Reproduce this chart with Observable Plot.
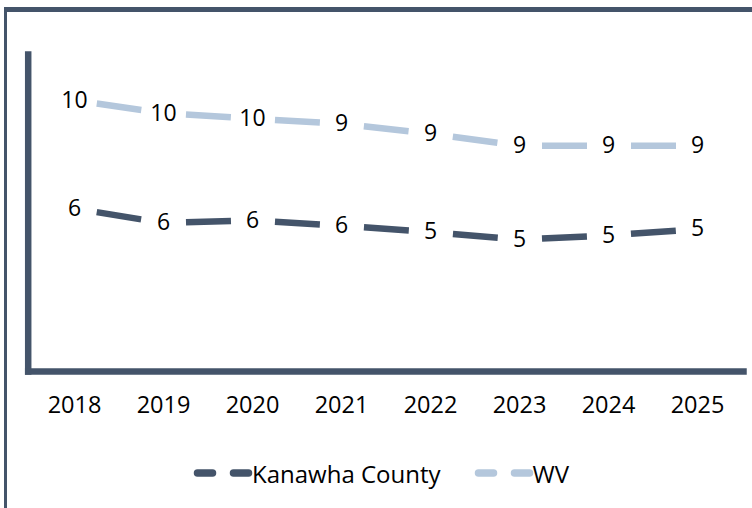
<!DOCTYPE html>
<html><head><meta charset="utf-8">
<script src="https://cdn.jsdelivr.net/npm/d3@7"></script>
<script src="https://cdn.jsdelivr.net/npm/@observablehq/plot@0.6"></script>
<style>
html,body{margin:0;padding:0;background:#fff;overflow:hidden;width:752px;height:508px;position:relative}
#frame{position:absolute;left:4px;top:7px;width:800px;height:600px;border-left:3.5px solid #44546a;border-top:5px solid #44546a;box-sizing:border-box}
#chart{position:absolute;left:0;top:0}
#legend{position:absolute;top:458px;left:193px;height:30px;display:flex;align-items:center;font-family:"Open Sans",Arial,sans-serif;font-size:24px;color:#000}
.item{display:flex;align-items:center;margin-right:33px}
</style></head>
<body>
<div id="frame"></div>
<div id="chart"></div>
<div id="legend"></div>
<script>
const years = ["2018","2019","2020","2021","2022","2023","2024","2025"];
const kanawha = [6.17, 5.62, 5.72, 5.52, 5.28, 4.99, 5.15, 5.39];
const wv = [10.27, 9.78, 9.57, 9.38, 9.00, 8.55, 8.55, 8.55];
const seriesNames = ["Kanawha County", "WV"];
const seriesColors = ["#44546a", "#b4c7dc"];
const yDomain = [0, 12];

const rows = [];
const segs = [];
[kanawha, wv].forEach((vals, i) => {
  const pts = vals.map((v, j) => ({series: seriesNames[i], year: years[j], value: v}));
  rows.push(...pts);
  d3.pairs(pts).forEach(([a, b]) => segs.push({series: seriesNames[i], x1: a.year, y1: a.value, x2: b.year, y2: b.value}));
});

const axisColor = "#44546a";
const chart = Plot.plot({
  width: 752,
  height: 440,
  marginLeft: 27.7,
  marginRight: 9,
  marginTop: 54,
  marginBottom: 69,
  style: {fontFamily: "'Open Sans', Arial, sans-serif", fontSize: "23px", color: "#000", background: "transparent"},
  x: {type: "point", domain: years, padding: 0.5},
  y: {domain: yDomain, axis: null},
  color: {domain: seriesNames, range: seriesColors},
  marks: [
    Plot.axisX({tickSize: 0, tickPadding: 25, fontSize: 23.5, fill: "#000", label: null}),
    Plot.link(segs, {x1: "x1", y1: "y1", x2: "x2", y2: "y2", stroke: "series", strokeWidth: 6.5, strokeLinecap: "butt", strokeDasharray: "0 22.5 45 1000"}),
    Plot.text(rows, {x: "year", y: "value", text: d => d3.format(".0f")(d.value), fontSize: 23, fill: "#000"}),
    Plot.frame({anchor: "left", stroke: axisColor, strokeWidth: 6.5}),
    Plot.frame({anchor: "bottom", stroke: axisColor, strokeWidth: 6.5})
  ]
});
document.getElementById("chart").appendChild(chart);

const legend = d3.select("#legend");
seriesNames.forEach((name, i) => {
  const item = legend.append("div").attr("class", "item");
  const svg = item.append("svg").attr("width", 62).attr("height", 16);
  svg.append("line").attr("x1", 4.5).attr("x2", 19.5).attr("y1", 8).attr("y2", 8)
    .attr("stroke", seriesColors[i]).attr("stroke-width", 7.5).attr("stroke-linecap", "round");
  svg.append("line").attr("x1", 40.5).attr("x2", 55.5).attr("y1", 8).attr("y2", 8)
    .attr("stroke", seriesColors[i]).attr("stroke-width", 7.5).attr("stroke-linecap", "round");
  item.append("span").text(name).style("margin-left", "-3px");
});
</script>
</body></html>
